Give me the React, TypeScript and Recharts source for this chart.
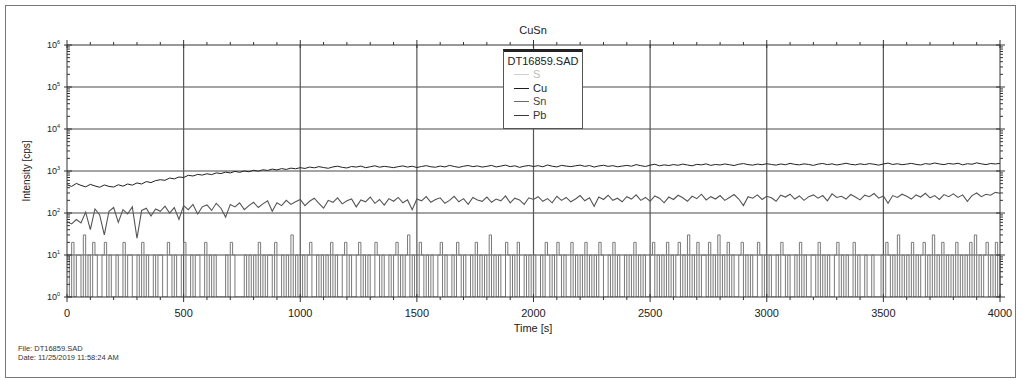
import { LineChart, Line, XAxis, YAxis, ReferenceLine } from 'recharts';

const FONT = '"Liberation Sans", Arial, sans-serif';

// Cu counts, one reading every 20 s from 0 to 4000 s
const cuStep = 20;
const cuValues = [
  470, 430, 505, 455, 420, 480, 440, 410, 465, 430,
  415, 470, 435, 490, 460, 520, 490, 560, 530, 590,
  620, 600, 680, 650, 720, 700, 790, 760, 830, 800,
  860, 820, 900, 870, 940, 900, 980, 930, 1000, 960,
  1040, 990, 1070, 1030, 1110, 1060, 1140, 1090, 1170, 1130,
  1200, 1150, 1240, 1190, 1270, 1210, 1160, 1250, 1300, 1220,
  1180, 1280, 1240, 1310, 1200, 1260, 1330, 1230, 1290, 1250,
  1200, 1270, 1320, 1240, 1300, 1210, 1280, 1340, 1260, 1230,
  1310, 1250, 1360, 1280, 1220, 1300, 1350, 1270, 1320, 1240,
  1290, 1360, 1250, 1310, 1380, 1270, 1330, 1220, 1300, 1350,
  1280, 1340, 1260, 1390, 1300, 1250, 1360, 1310, 1270, 1330,
  1380, 1290, 1350, 1240, 1320, 1370, 1290, 1340, 1260, 1310,
  1360, 1300, 1420, 1340, 1280, 1380, 1450, 1330, 1400, 1350,
  1420, 1370, 1460, 1390, 1330, 1440, 1400, 1480, 1360, 1430,
  1390, 1470, 1410, 1350, 1450, 1500, 1420, 1380, 1460, 1410,
  1490, 1430, 1380, 1470, 1410, 1520, 1440, 1400, 1480, 1430,
  1360, 1460, 1510, 1420, 1480, 1390, 1450, 1530, 1440, 1400,
  1480, 1420, 1500, 1450, 1380, 1470, 1540, 1430, 1490, 1410,
  1460, 1520, 1440, 1390, 1500, 1450, 1550, 1470, 1420, 1510,
  1460, 1530, 1400, 1490, 1450, 1560, 1480, 1420, 1510, 1470,
  1520,
];

// Sn counts, same 20 s grid
const snValues = [
  62, 55, 70, 58, 105, 40, 125, 90, 30, 110,
  135, 60, 120, 95, 140, 25, 115, 130, 85, 125,
  110, 145, 100, 135, 70, 150, 120, 160, 95, 140,
  155, 115, 170, 130, 80, 160, 140, 175, 120, 150,
  180, 135, 165, 195, 110, 175, 150, 200, 160, 185,
  210, 150, 190, 225, 170, 130, 200, 180, 230, 165,
  195, 215, 140, 205, 185, 240, 170, 210, 155, 220,
  190, 235, 175, 205, 120, 215, 195, 245, 180, 210,
  230, 170, 200, 250, 185, 220, 160, 235, 205, 190,
  240, 180, 215, 195, 255, 175, 225, 205, 160, 230,
  210, 245, 190, 220, 175, 250, 200, 235, 185, 215,
  260, 195, 230, 145, 240, 210, 265, 200, 225, 185,
  245, 215, 270, 200, 235, 190, 255, 225, 175, 240,
  210, 265, 230, 190, 250, 220, 280, 205, 245, 215,
  260, 200, 235, 275, 215, 150, 245, 225, 270, 210,
  250, 230, 190, 265, 240, 280, 215, 255, 200, 245,
  270, 225, 260, 195, 285, 235, 250, 215, 275, 240,
  205, 265, 245, 290, 225, 255, 170, 260, 235, 280,
  250, 215, 270, 240, 295, 230, 260, 210, 275, 245,
  285, 235, 270, 190, 260, 300, 245, 280, 265, 310,
  295,
];

// Pb counts, one reading every 10 s (1 = empty bin on the log axis)
const pbStep = 10;
const pbValues = [
  10, 1, 20, 1, 10, 10, 1, 30, 1, 10, 1, 20, 10, 1, 1, 10, 20, 1, 10, 1,
  1, 10, 1, 1, 20, 1, 10, 10, 1, 1, 10, 1, 20, 1, 10, 1, 1, 10, 1, 10,
  10, 1, 1, 20, 10, 1, 10, 1, 1, 10, 20, 1, 1, 10, 1, 10, 10, 1, 1, 20,
  1, 10, 1, 10, 1, 1, 1, 1, 10, 1, 20, 10, 1, 1, 1, 1, 10, 1, 10, 1,
  10, 1, 20, 1, 10, 1, 10, 10, 1, 20, 1, 1, 10, 1, 10, 1, 30, 1, 10, 1,
  1, 10, 1, 10, 20, 1, 1, 10, 1, 10, 1, 10, 1, 20, 1, 10, 1, 1, 10, 20,
  1, 10, 1, 1, 10, 20, 1, 10, 1, 10, 1, 1, 20, 10, 1, 10, 1, 1, 10, 1,
  10, 20, 1, 10, 1, 10, 30, 1, 10, 1, 1, 20, 10, 1, 10, 1, 10, 1, 1, 10,
  20, 1, 10, 1, 1, 10, 1, 20, 10, 1, 10, 1, 1, 10, 1, 20, 1, 10, 1, 10,
  1, 30, 1, 10, 1, 10, 1, 1, 20, 10, 1, 10, 1, 20, 1, 1, 10, 1, 10, 1,
  10, 1, 1, 10, 1, 20, 10, 1, 10, 1, 20, 10, 1, 10, 1, 1, 20, 1, 10, 1,
  10, 1, 20, 1, 10, 1, 10, 1, 20, 10, 1, 1, 10, 1, 20, 1, 10, 1, 1, 10,
  1, 10, 1, 20, 1, 10, 1, 10, 1, 1, 10, 20, 1, 10, 1, 10, 1, 20, 1, 10,
  1, 10, 20, 1, 10, 1, 30, 1, 10, 1, 20, 1, 10, 10, 1, 20, 1, 10, 1, 30,
  1, 10, 1, 20, 1, 10, 1, 1, 10, 20, 1, 10, 1, 10, 1, 1, 20, 10, 1, 10,
  1, 10, 1, 1, 10, 1, 20, 10, 1, 10, 1, 1, 10, 1, 20, 1, 10, 1, 1, 10,
  10, 1, 20, 1, 10, 1, 10, 1, 1, 10, 20, 1, 10, 1, 10, 1, 1, 20, 1, 10,
  1, 1, 10, 1, 1, 10, 1, 1, 1, 10, 1, 20, 10, 1, 10, 1, 30, 1, 10, 1,
  10, 1, 20, 1, 10, 1, 10, 20, 1, 10, 1, 30, 1, 10, 1, 20, 1, 10, 1, 10,
  1, 20, 1, 10, 1, 10, 1, 20, 1, 30, 1, 10, 1, 10, 20, 1, 10, 1, 20, 1,
  10,
];

const timeTicks = [0, 500, 1000, 1500, 2000, 2500, 3000, 3500, 4000];
const decades = [1, 10, 100, 1000, 10000, 100000, 1000000];

const legendItems = [
  { name: 'S', color: '#cfcfcf', text: '#bdbdbd' },
  { name: 'Cu', color: '#1e1e1e', text: '#1e1e1e' },
  { name: 'Sn', color: '#6a6a6a', text: '#444' },
  { name: 'Pb', color: '#3a3a3a', text: '#333' },
];

// merge everything onto the 10 s grid
const chartData = pbValues.map((pb, i) => {
  const t = i * pbStep;
  const j = t / cuStep;
  const onGrid = Number.isInteger(j);
  return {
    t,
    pb,
    cu: onGrid ? cuValues[j] : null,
    sn: onGrid ? snValues[j] : null,
  };
});

const minorTimeTicks = Array.from({ length: 41 }, (_, i) => i * 100);
const logTicks: number[] = [];
decades.slice(0, 6).forEach((d) => {
  for (let k = 1; k < 10; k++) logTicks.push(d * k);
});
logTicks.push(1000000);

const isDecade = (v: number) => decades.some((d) => Math.abs(d - v) < d * 1e-6);

const LeftTick = (props: any) => {
  const { x, y, payload } = props;
  const v = payload.value;
  const major = isDecade(v);
  const exp = Math.round(Math.log10(v));
  return (
    <g>
      <line x1={major ? x - 3 : x} x2={x + (major ? 5 : 3)} y1={y} y2={y} stroke="#333" strokeWidth={1} />
      {major && (
        <text x={x - 7} y={y + 3} textAnchor="end" fontSize={9} fontFamily={FONT} fill="#222">
          10<tspan dy={-4} fontSize={5.5}>{exp}</tspan>
        </text>
      )}
    </g>
  );
};

const RightTick = (props: any) => {
  const { x, y, payload } = props;
  const major = isDecade(payload.value);
  return <line x1={major ? x - 4 : x} x2={x + (major ? 5 : 3)} y1={y} y2={y} stroke="#333" strokeWidth={1} />;
};

const BottomTick = (props: any) => {
  const { x, y, payload } = props;
  const major = payload.value % 500 === 0;
  return (
    <g>
      <line x1={x} x2={x} y1={y - (major ? 3 : 0)} y2={y + (major ? 5 : 3)} stroke="#333" strokeWidth={1} />
      {major && (
        <text x={x} y={y + 20} textAnchor="middle" fontSize={11} fontFamily={FONT} fill="#222">
          {payload.value}
        </text>
      )}
    </g>
  );
};

const TopTick = (props: any) => {
  const { x, y, payload } = props;
  const major = payload.value % 500 === 0;
  return <line x1={x} x2={x} y1={y + (major ? 3 : 0)} y2={y - (major ? 5 : 3)} stroke="#333" strokeWidth={1} />;
};

export default function App() {
  return (
    <div style={{ position: 'absolute', left: 0, top: 0, width: 1022, height: 380, background: '#fff', fontFamily: FONT }}>
      <div
        style={{
          position: 'absolute',
          left: 5,
          top: 5,
          width: 1011,
          height: 373,
          boxSizing: 'border-box',
          border: '1.5px solid #777',
        }}
      />
      <LineChart
        width={1022}
        height={380}
        data={chartData}
        margin={{ top: 40, right: 12, bottom: 53, left: 27 }}
        style={{ position: 'absolute', left: 0, top: 0 }}
      >
        <XAxis
          xAxisId="bottom"
          dataKey="t"
          type="number"
          domain={[0, 4000]}
          ticks={minorTimeTicks}
          interval={0}
          tickSize={0}
          tickMargin={0}
          tickLine={false}
          tick={<BottomTick />}
          axisLine={{ stroke: '#333' }}
          height={30}
        />
        <XAxis
          xAxisId="top"
          orientation="top"
          dataKey="t"
          type="number"
          domain={[0, 4000]}
          ticks={minorTimeTicks}
          interval={0}
          tickSize={0}
          tickMargin={0}
          tickLine={false}
          tick={<TopTick />}
          axisLine={{ stroke: '#333' }}
          height={5}
        />
        <YAxis
          yAxisId="left"
          scale="log"
          type="number"
          domain={[1, 1000000]}
          allowDataOverflow
          ticks={logTicks}
          interval={0}
          tickSize={0}
          tickMargin={0}
          tickLine={false}
          tick={<LeftTick />}
          axisLine={{ stroke: '#333' }}
          width={40}
        />
        <YAxis
          yAxisId="right"
          orientation="right"
          scale="log"
          type="number"
          domain={[1, 1000000]}
          allowDataOverflow
          ticks={logTicks}
          interval={0}
          tickSize={0}
          tickMargin={0}
          tickLine={false}
          tick={<RightTick />}
          axisLine={{ stroke: '#333' }}
          width={10}
        />
        {decades.slice(1, 6).map((d) => (
          <ReferenceLine key={'h' + d} xAxisId="bottom" yAxisId="left" y={d} stroke="#4a4a4a" strokeWidth={1.2} />
        ))}
        {timeTicks.slice(1, 8).map((t) => (
          <ReferenceLine key={'v' + t} xAxisId="bottom" yAxisId="left" x={t} stroke="#555" strokeWidth={1.2} />
        ))}
        <Line
          xAxisId="bottom"
          yAxisId="left"
          type="stepAfter"
          dataKey="pb"
          stroke="#7a7a7a"
          strokeWidth={1}
          dot={false}
          isAnimationActive={false}
        />
        <Line
          xAxisId="bottom"
          yAxisId="left"
          dataKey="sn"
          stroke="#555"
          strokeWidth={1.1}
          dot={false}
          connectNulls
          isAnimationActive={false}
        />
        <Line
          xAxisId="bottom"
          yAxisId="left"
          dataKey="cu"
          stroke="#222"
          strokeWidth={1}
          dot={false}
          connectNulls
          isAnimationActive={false}
        />
      </LineChart>
      <svg width={1022} height={380} style={{ position: 'absolute', left: 0, top: 0, pointerEvents: 'none' }}>
        <text x={533} y={34} textAnchor="middle" fontSize={11} fontFamily={FONT} fill="#222">CuSn</text>
        <text x={533} y={332} textAnchor="middle" fontSize={11} fontFamily={FONT} fill="#222">Time [s]</text>
        <text
          x={30}
          y={171}
          textAnchor="middle"
          fontSize={10}
          fontFamily={FONT}
          fill="#222"
          transform="rotate(-90 30 171)"
        >
          Intensity [cps]
        </text>
        <text x={18} y={351} fontSize={7.5} fontFamily={FONT} fill="#333">File: DT16859.SAD</text>
        <text x={18} y={360} fontSize={7.5} fontFamily={FONT} fill="#333">Date: 11/25/2019 11:58:24 AM</text>
      </svg>
      <div
        style={{
          position: 'absolute',
          left: 503,
          top: 49,
          width: 80,
          height: 80,
          boxSizing: 'border-box',
          background: '#fff',
          border: '1px solid #555',
          borderTop: '3px solid #222',
          fontSize: 11,
          color: '#222',
        }}
      >
        <div style={{ textAlign: 'center', marginTop: 3, lineHeight: '13px' }}>DT16859.SAD</div>
        {legendItems.map((it) => (
          <div key={it.name} style={{ display: 'flex', alignItems: 'center', height: 13.5, marginLeft: 10 }}>
            <div style={{ width: 15, height: 1, background: it.color, marginRight: 4 }} />
            <span style={{ color: it.text, lineHeight: '13px' }}>{it.name}</span>
          </div>
        ))}
      </div>
    </div>
  );
}
